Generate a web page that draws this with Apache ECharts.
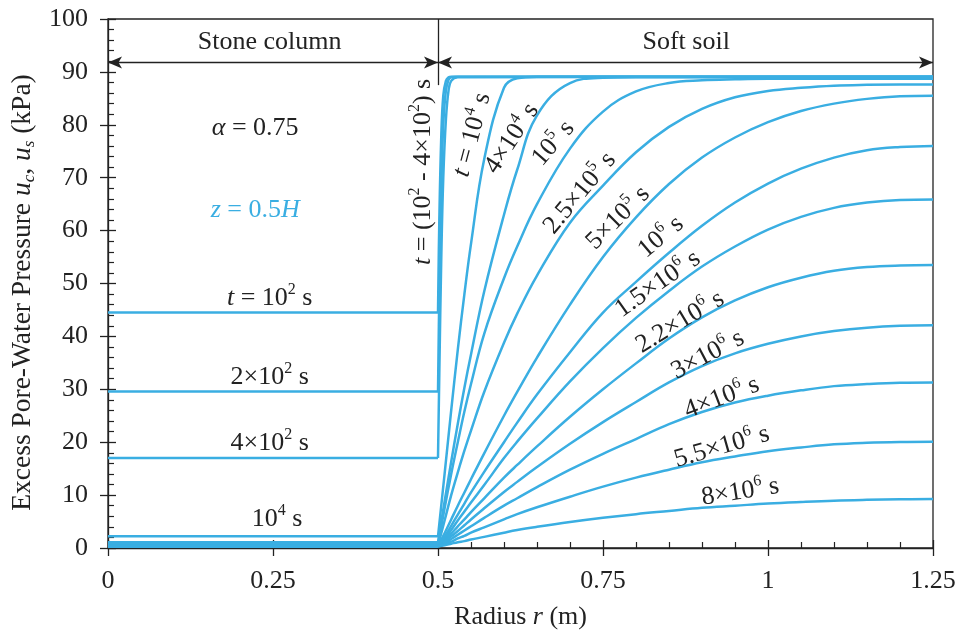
<!DOCTYPE html>
<html>
<head>
<meta charset="utf-8">
<script src="https://cdn.jsdelivr.net/npm/echarts/dist/echarts.min.js"></script>
<style>
  html, body { margin: 0; padding: 0; background: #fff; }
  #chart { width: 963px; height: 636px; }
</style>
</head>
<body>
<div id="chart"></div>
<script>
// ---- data ----
var xTicks = [0, 0.25, 0.5, 0.75, 1, 1.25];
var yTicks = [0, 10, 20, 30, 40, 50, 60, 70, 80, 90, 100];

var times = ['1e2', '2e2', '4e2', '1e4', '4e4', '1e5', '2.5e5', '5e5', '1e6', '1.5e6', '2.2e6', '3e6', '4e6', '5.5e6', '8e6'];

// stone column (r = 0 .. 0.5): constant pressure
var rStone = [0, 0.5];
var uStone = [44.5, 29.6, 17.0, 2.2, 1.1, 0.7, 0.5, 0.45, 0.4, 0.35, 0.3, 0.3, 0.3, 0.3, 0.3];

// soft soil, very early times
var rFast = [0.5, 0.502, 0.505, 0.508, 0.512, 0.516, 0.52, 0.53, 1.25];
var uSoil1e2 = [44.5, 62, 78, 85.5, 88.3, 89.0, 89.1, 89.1, 89.1];
var uSoil2e2 = [29.6, 48, 68, 80, 86.5, 88.5, 89.0, 89.1, 89.1];
var uSoil4e2 = [17.0, 33, 55, 70, 81, 86.5, 88.3, 89.0, 89.1];

// soft soil, later times
var rSoil = [0.5, 0.51, 0.52, 0.53, 0.54, 0.55, 0.57, 0.6, 0.62, 0.65, 0.7, 0.75, 0.8, 0.85, 0.9, 0.95, 1.0, 1.05, 1.1, 1.15, 1.2, 1.25];
var uSoil1e4   = [2.2, 14, 26, 37.5, 48, 57.5, 73.5, 87.0, 88.8, 89.1, 89.1, 89.1, 89.1, 89.1, 89.1, 89.1, 89.1, 89.1, 89.1, 89.1, 89.1, 89.1];
var uSoil4e4   = [1.1, 8.8, 16.3, 23.5, 30.3, 36.6, 48.5, 63, 71.5, 81.8, 87.9, 88.9, 89.0, 89.0, 89.0, 89.0, 89.0, 89.0, 89.0, 89.0, 89.0, 89.0];
var uSoil1e5   = [0.7, 7.5, 14, 20, 25.8, 31, 40.5, 51, 57, 65, 75.5, 82.5, 86.3, 87.9, 88.4, 88.6, 88.7, 88.7, 88.7, 88.7, 88.7, 88.7];
var uSoil25e5  = [0.5, 5.2, 10, 14.3, 18.4, 22.2, 29.5, 38.8, 44.3, 51.5, 61.5, 68.5, 74.8, 79.6, 83.0, 85.2, 86.4, 87.0, 87.4, 87.55, 87.6, 87.6];
var uSoil5e5   = [0.45, 2.8, 5.4, 8.0, 10.5, 13, 17.9, 25, 29.5, 36, 46, 55, 62.5, 68.8, 73.8, 77.6, 80.5, 82.6, 84.0, 84.9, 85.4, 85.5];
var uSoil1e6   = [0.4, 2.1, 4.2, 6.3, 8.4, 10.5, 14.4, 20, 23.7, 29, 37, 44.5, 50.3, 55.8, 60.9, 65.3, 68.9, 71.7, 73.8, 75.2, 75.8, 76.0];
var uSoil15e6  = [0.35, 1.7, 3.4, 5.2, 6.9, 8.6, 11.9, 17, 20.1, 24.5, 31.5, 37.8, 43.5, 48.6, 53.2, 57.0, 60.2, 62.6, 64.3, 65.3, 65.8, 65.9];
var uSoil22e6  = [0.3, 1.4, 2.7, 4.1, 5.4, 6.8, 9.4, 13.3, 15.7, 19.2, 24.8, 30.0, 34.9, 39.6, 43.6, 46.8, 49.3, 51.1, 52.4, 53.1, 53.4, 53.5];
var uSoil3e6   = [0.3, 1.1, 2.2, 3.2, 4.3, 5.4, 7.5, 10.6, 12.5, 15.3, 19.7, 23.8, 27.6, 31.3, 34.4, 36.8, 38.6, 40.0, 41.0, 41.65, 42.0, 42.1];
var uSoil4e6   = [0.3, 0.9, 1.7, 2.5, 3.3, 4.1, 5.7, 8.0, 9.4, 11.5, 14.8, 17.8, 20.6, 23.4, 25.7, 27.5, 28.8, 29.8, 30.6, 31.0, 31.25, 31.3];
var uSoil55e6  = [0.3, 0.7, 1.2, 1.8, 2.3, 2.9, 3.9, 5.4, 6.4, 7.7, 9.7, 11.6, 13.3, 14.8, 16.2, 17.3, 18.3, 19.0, 19.6, 19.9, 20.05, 20.1];
var uSoil8e6   = [0.3, 0.5, 0.8, 1.1, 1.3, 1.6, 2.1, 2.9, 3.4, 4.0, 4.9, 5.7, 6.4, 7.0, 7.6, 8.0, 8.4, 8.7, 8.95, 9.1, 9.2, 9.25];

// ---- styling ----
var BLUE = '#3aaee2';
var INK = '#222';
var FONT = 'Liberation Serif';

var soilCurves = [
    [rFast, uSoil1e2], [rFast, uSoil2e2], [rFast, uSoil4e2],
    [rSoil, uSoil1e4], [rSoil, uSoil4e4], [rSoil, uSoil1e5], [rSoil, uSoil25e5],
    [rSoil, uSoil5e5], [rSoil, uSoil1e6], [rSoil, uSoil15e6], [rSoil, uSoil22e6],
    [rSoil, uSoil3e6], [rSoil, uSoil4e6], [rSoil, uSoil55e6], [rSoil, uSoil8e6]
];

function zip(xs, ys) {
    var out = [];
    for (var i = 0; i < xs.length; i++) out.push([xs[i], ys[i]]);
    return out;
}

var series = [];
for (var k = 0; k < times.length; k++) {
    series.push({
        name: 'stone ' + times[k], type: 'line', showSymbol: false, symbol: 'none',
        data: zip(rStone, [uStone[k], uStone[k]]),
        lineStyle: { color: BLUE, width: 2.5 }, z: 3
    });
    series.push({
        name: 'soil ' + times[k], type: 'line', showSymbol: false, symbol: 'none',
        smooth: 0.4,
        data: zip(soilCurves[k][0], soilCurves[k][1]),
        lineStyle: { color: BLUE, width: 2.5, join: 'round' }, z: 3
    });
}

// dimension arrows and divider
series.push({
    type: 'line', data: [], silent: true,
    markLine: {
        silent: true, animation: false,
        symbol: ['arrow', 'arrow'], symbolSize: [9, 14],
        label: { show: false },
        lineStyle: { color: INK, width: 1.3, type: 'solid' },
        data: [
            [{ coord: [0, 91.8] }, { coord: [0.5, 91.8] }],
            [{ coord: [0.5, 91.8] }, { coord: [1.25, 91.8] }],
            [{ coord: [0.5, 100], symbol: 'none' }, { coord: [0.5, 87.5], symbol: 'none' }]
        ]
    }
});

var notes = [
    { x: 0.245, y: 95.7, rot: 0, text: 'Stone column' },
    { x: 0.876, y: 95.7, rot: 0, text: 'Soft soil' },
    { x: 0.223, y: 79.4, rot: 0, text: '{i|α} = 0.75' },
    { x: 0.223, y: 63.9, rot: 0, text: '{i|z} = 0.5{i|H}', color: BLUE },
    { x: 0.245, y: 47.3, rot: 0, text: '{i|t} = 10{sup|2} s' },
    { x: 0.245, y: 32.3, rot: 0, text: '2×10{sup|2} s' },
    { x: 0.245, y: 19.8, rot: 0, text: '4×10{sup|2} s' },
    { x: 0.256, y: 5.5, rot: 0, text: '10{sup|4} s' },
    { x: 0.477, y: 71.1, rot: 90, text: '{i|t} = (10{sup|2} - 4×10{sup|2}) s' },
    { x: 0.552, y: 78.1, rot: 75, text: '{i|t} = 10{sup|4} s' },
    { x: 0.612, y: 77.4, rot: 57, text: '4×10{sup|4} s' },
    { x: 0.675, y: 76.5, rot: 49, text: '10{sup|5} s' },
    { x: 0.715, y: 67.1, rot: 50, text: '2.5×10{sup|5} s' },
    { x: 0.773, y: 62.4, rot: 45, text: '5×10{sup|5} s' },
    { x: 0.838, y: 58.8, rot: 40, text: '10{sup|6} s' },
    { x: 0.833, y: 49.9, rot: 35, text: '1.5×10{sup|6} s' },
    { x: 0.867, y: 42.7, rot: 31, text: '2.2×10{sup|6} s' },
    { x: 0.909, y: 36.5, rot: 28, text: '3×10{sup|6} s' },
    { x: 0.930, y: 28.4, rot: 21, text: '4×10{sup|6} s' },
    { x: 0.930, y: 19.1, rot: 16, text: '5.5×10{sup|6} s' },
    { x: 0.958, y: 10.6, rot: 9, text: '8×10{sup|6} s' }
];

var axisCommon = {
    type: 'value',
    splitLine: { show: false },
    axisLine: { show: true, lineStyle: { color: INK, width: 1.3 } }
};

var chart = echarts.init(document.getElementById('chart'), null, { renderer: 'canvas' });

var option = {
    animation: false,
    backgroundColor: '#fff',
    grid: { left: 108, right: 30, top: 19, bottom: 88, show: true, borderColor: INK, borderWidth: 1.3 },
    xAxis: [
        Object.assign({}, axisCommon, {
            min: 0, max: 1.25, interval: 0.25, position: 'bottom',
            axisTick: { show: true, inside: false, length: 8, lineStyle: { color: INK, width: 1.3 } },
            axisLabel: { fontFamily: FONT, fontSize: 26, color: INK, margin: 20 },
            name: 'Radius {i|r} (m)', nameLocation: 'middle', nameGap: 56,
            nameTextStyle: { fontFamily: FONT, fontSize: 26, color: INK,
                rich: { i: { fontFamily: FONT, fontSize: 26, fontStyle: 'italic', color: INK } } }
        }),
        Object.assign({}, axisCommon, {
            min: 0, max: 1.25, interval: 0.25, position: 'bottom', offset: 0,
            axisLine: { show: false },
            axisTick: { show: true, inside: true, length: 8, lineStyle: { color: INK, width: 1.3 } },
            minorTick: { show: true, splitNumber: 5, length: 6, lineStyle: { color: INK, width: 1.2 } },
            axisLabel: { show: false }
        })
    ],
    yAxis: [
        Object.assign({}, axisCommon, {
            min: 0, max: 100, interval: 10, position: 'left',
            axisTick: { show: true, inside: false, length: 8, lineStyle: { color: INK, width: 1.3 } },
            axisLabel: { fontFamily: FONT, fontSize: 26, color: INK, margin: 20 },
            name: 'Excess Pore-Water Pressure {i|u}{sub|c}, {i|u}{sub|s} (kPa)',
            nameLocation: 'middle', nameGap: 68,
            nameTextStyle: { fontFamily: FONT, fontSize: 27.5, color: INK, padding: [0, 18, 0, 0],
                rich: {
                    i: { fontFamily: FONT, fontSize: 27.5, fontStyle: 'italic', color: INK, lineHeight: 31 },
                    sub: { fontFamily: FONT, fontSize: 17, fontStyle: 'italic', color: INK, verticalAlign: 'bottom', lineHeight: 17 }
                } }
        }),
        Object.assign({}, axisCommon, {
            min: 0, max: 100, interval: 10, position: 'left', offset: 0,
            axisLine: { show: false },
            axisTick: { show: true, inside: true, length: 8, lineStyle: { color: INK, width: 1.3 } },
            minorTick: { show: true, splitNumber: 5, length: 6, lineStyle: { color: INK, width: 1.2 } },
            axisLabel: { show: false }
        })
    ],
    series: series
};

chart.setOption(option);

// place annotations in data coordinates
var graphics = notes.map(function (n) {
    var p = chart.convertToPixel({ xAxisIndex: 0, yAxisIndex: 0 }, [n.x, n.y]);
    return {
        type: 'text', x: p[0], y: p[1], rotation: n.rot * Math.PI / 180, z: 50,
        style: {
            text: n.text, fill: n.color || INK,
            fontFamily: FONT, fontSize: 26, lineHeight: 32,
            align: 'center', verticalAlign: 'middle',
            rich: {
                i: { fontFamily: FONT, fontSize: 26, fontStyle: 'italic', lineHeight: 32, fill: n.color || INK },
                sup: { fontFamily: FONT, fontSize: 16, verticalAlign: 'top', lineHeight: 16, fill: n.color || INK }
            }
        }
    };
});
chart.setOption({ graphic: graphics });
</script>
</body>
</html>
